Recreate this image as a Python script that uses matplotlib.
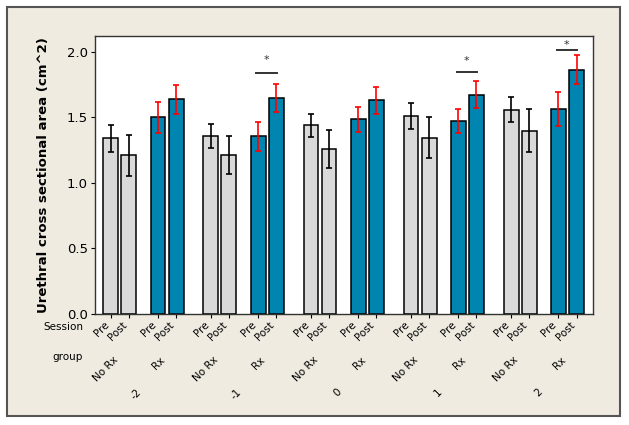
import matplotlib.pyplot as plt
import matplotlib.patches as patches
import numpy as np

W, H = 629, 425

sessions = ["-2", "-1", "0", "1", "2"]
groups = ["No Rx", "Rx"]
times = ["Pre", "Post"]

# mean per session, order: NoRx Pre, NoRx Post, Rx Pre, Rx Post
means = [
    [1.34, 1.21, 1.50, 1.64],
    [1.36, 1.21, 1.355, 1.65],
    [1.44, 1.26, 1.485, 1.63],
    [1.51, 1.345, 1.475, 1.675],
    [1.56, 1.40, 1.565, 1.865],
]
errs = [
    [0.10, 0.155, 0.12, 0.11],
    [0.09, 0.145, 0.11, 0.105],
    [0.087, 0.143, 0.095, 0.10],
    [0.10, 0.155, 0.09, 0.103],
    [0.095, 0.165, 0.133, 0.11],
]
# significance marks on Rx pairs: (session index, line height, star height)
sig = [(1, 1.837, 1.935), (3, 1.847, 1.93), (4, 2.015, 2.05)]

grey = "#d9d9d9"
blue = "#0084b0"
beige = "#efebe1"

fig = plt.figure(figsize=(W / 100, H / 100), dpi=100)
fig.patch.set_facecolor("white")
fig.patches.append(patches.Rectangle((7 / W, 1 - 416 / H), 613 / W, 409 / H,
                                     transform=fig.transFigure, facecolor=beige,
                                     edgecolor="#555555", linewidth=1.5, zorder=-1))

ax = fig.add_axes([95 / W, 1 - 314 / H, 498 / W, 278 / H])
ax.set_facecolor("white")

s_gap, g_gap = 5.54, 2.62
xs, labels = [], []
for s in range(len(sessions)):
    for g in range(len(groups)):
        for t in range(len(times)):
            x = s * s_gap + g * g_gap + t
            k = g * 2 + t
            color = grey if g == 0 else blue
            ecol = "black" if g == 0 else "red"
            ax.bar(x, means[s][k], width=0.82, color=color, edgecolor="black",
                   linewidth=1.1, zorder=2)
            ax.errorbar(x, means[s][k], yerr=errs[s][k], fmt="none", ecolor=ecol,
                        elinewidth=1.2, capsize=2.5, capthick=1.2, zorder=3)
            xs.append(x)
            labels.append(times[t])

for s, yl, ys in sig:
    x0 = s * s_gap + g_gap
    ax.plot([x0 - 0.1, x0 + 1.05], [yl, yl], color="#333333", lw=1.4, zorder=3)
    ax.text(x0 + 0.45, ys, "*", ha="center", va="center", fontsize=8, color="#333333")

ax.set_xlim(-0.87, 26.69)
ax.set_ylim(0, 2.122)
ax.set_yticks([0.0, 0.5, 1.0, 1.5, 2.0])
ax.set_yticklabels(["0.0", "0.5", "1.0", "1.5", "2.0"], fontsize=9.5)
ax.set_xticks(xs)
ax.set_xticklabels(labels, rotation=45, ha="right", fontsize=7.5)
ax.tick_params(axis="x", length=3, pad=1)
ax.tick_params(axis="y", length=3, pad=2)
for sp in ax.spines.values():
    sp.set_linewidth(1.0)
    sp.set_color("#333333")
ax.set_ylabel("Urethral cross sectional area (cm^2)", fontsize=9.5, fontweight="bold",
              labelpad=12)

trans = ax.get_xaxis_transform()
for s in range(len(sessions)):
    for g in range(len(groups)):
        xc = s * s_gap + g * g_gap + 0.5
        ax.annotate(groups[g], xy=(xc, 0), xycoords=trans, xytext=(0, -41 * 0.72),
                    textcoords="offset points", rotation=45, ha="right", va="top",
                    fontsize=7.5)
    xc = s * s_gap + (g_gap + 1) / 2
    ax.annotate(sessions[s], xy=(xc, 0), xycoords=trans, xytext=(0, -73 * 0.72),
                textcoords="offset points", rotation=45, ha="right", va="top",
                fontsize=7.5)

fig.text(83 / W, 1 - 327 / H, "Session", ha="right", va="center", fontsize=7.5)
fig.text(83 / W, 1 - 357 / H, "group", ha="right", va="center", fontsize=7.5)

fig.savefig("out.png", dpi=100)
